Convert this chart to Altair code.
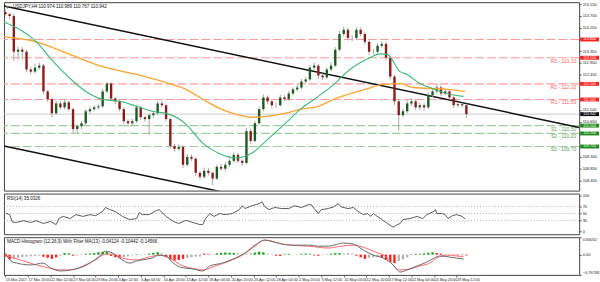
import json
import altair as alt
import pandas as pd

W = 580
H_MAIN, H_RSI, H_MACD = 190, 41, 38
FONT = "Liberation Sans"
XDOM = [0, 408]
PDOM = [108.01, 115.23]

# ---------------- price candles (one candle per 3 H4 bars) ----------------
open0 = 114.85
close = [114.77,114.70,113.33,113.41,113.33,112.65,112.57,112.72,112.80,111.81,
         111.51,110.97,111.35,111.20,111.39,111.13,110.37,110.48,110.59,111.05,
         111.13,111.20,111.24,111.81,112.11,111.54,111.43,111.13,110.67,110.59,
         110.67,111.20,110.82,110.75,110.90,110.97,111.35,111.28,110.75,109.72,
         109.61,109.68,109.00,109.30,109.23,108.69,108.54,108.77,108.69,108.47,
         108.92,108.85,109.00,109.15,109.38,109.15,109.07,110.29,109.91,110.59,
         111.13,111.58,111.43,111.28,111.28,111.58,111.51,111.73,111.89,111.96,
         112.19,112.27,112.72,112.80,112.42,112.35,112.65,112.80,113.41,114.01,
         114.17,113.86,113.86,114.17,114.01,113.71,113.33,113.33,113.56,113.63,
         113.10,112.38,111.43,110.90,111.05,111.35,111.43,111.20,111.28,111.20,
         111.66,111.81,111.96,111.73,111.81,111.58,111.28,111.32,111.28,110.94]
wick_up = [0.10,0.06,0.10,0.12,0.10,0.08,0.10,0.15,0.12,0.06,
           0.06,0.06,0.12,0.10,0.12,0.06,0.06,0.06,0.08,0.08,
           0.10,0.08,0.10,0.10,0.06,0.06,0.06,0.06,0.06,0.08,
           0.10,0.10,0.06,0.06,0.08,0.10,0.08,0.10,0.06,0.06,
           0.08,0.12,0.06,0.12,0.10,0.06,0.06,0.12,0.10,0.06,
           0.08,0.12,0.10,0.08,0.10,0.06,0.06,0.12,0.10,0.08,
           0.10,0.12,0.08,0.08,0.10,0.10,0.08,0.10,0.08,0.10,
           0.10,0.10,0.10,0.12,0.06,0.08,0.08,0.12,0.10,0.12,
           0.12,0.08,0.10,0.10,0.08,0.06,0.06,0.10,0.10,0.10,
           0.08,0.06,0.06,0.10,0.10,0.15,0.12,0.10,0.10,0.08,
           0.10,0.12,0.15,0.08,0.10,0.06,0.06,0.08,0.06,0.06]
wick_dn = [0.05,0.10,0.35,0.30,0.30,0.10,0.10,0.08,0.08,0.10,
           0.10,0.15,0.06,0.08,0.08,0.06,0.15,0.15,0.12,0.06,
           0.08,0.08,0.08,0.06,0.06,0.08,0.10,0.08,0.12,0.15,
           0.10,0.06,0.10,0.10,0.60,0.10,0.06,0.08,0.08,0.10,
           0.10,0.08,0.12,0.08,0.08,0.12,0.10,0.08,0.10,0.25,
           0.06,0.08,0.10,0.08,0.08,0.08,0.12,0.06,0.12,0.06,
           0.06,0.08,0.12,0.12,0.10,0.06,0.08,0.06,0.08,0.08,
           0.06,0.08,0.06,0.08,0.12,0.10,0.06,0.06,0.06,0.06,
           0.08,0.10,0.12,0.06,0.08,0.10,0.12,0.10,0.06,0.08,
           0.10,0.12,0.15,0.60,0.10,0.08,0.10,0.10,0.10,0.12,
           0.06,0.06,0.08,0.10,0.08,0.08,0.10,0.08,0.10,0.15]

# moving averages (green fast, orange slow)
ma_fast_x = [0,23,35,47,58,70,82,94,105,117,129,141,153,164,176,188,199,211,223,234,246,258,267,272,281,286,295,304,314,326]
ma_fast = [114.47,113.71,112.95,112.30,111.81,111.51,111.43,111.24,111.05,110.94,110.56,109.83,109.42,109.26,109.45,
           110.02,110.56,111.16,111.62,112.08,112.68,113.06,113.25,113.22,112.57,112.46,112.11,111.92,111.73,111.62]
ma_slow_x = [0,23,47,70,94,117,129,141,153,164,176,188,199,211,223,234,246,258,269,281,290,314,327]
ma_slow = [113.90,113.71,113.22,112.76,112.46,112.11,111.89,111.51,111.16,110.94,110.82,110.86,
           110.97,111.13,111.24,111.51,111.73,111.92,112.08,112.11,111.96,111.89,111.81]

# trend channel lines
trend_upper_x = [0, 408]
trend_upper = [115.08, 110.43]
trend_lower_x = [0, 160]
trend_lower = [109.72, 107.90]

# horizontal levels
level_price = [113.80, 113.10, 112.10, 111.50, 110.50, 110.20, 109.70]
level_name = ["", "R3", "R2", "R1", "S1", "S2", "S3"]
level_kind = ["r", "r", "r", "r", "s", "s", "s"]
last_price = 110.94
last_label = "110.942"
price_ticks = [115.15, 114.70, 114.25, 113.35, 112.90, 112.45,
               111.10, 110.65, 109.30, 108.85, 108.40]
header = "USDJPY,H4  110.974 110.989 110.767 110.942"

# ---------------- RSI ----------------
rsi_x = [1,4,6,9,14,19,23,28,33,37,39,42,47,51,56,61,65,70,72,75,79,84,89,94,96,98,103,108,110,115,
         120,124,129,134,139,141,143,146,149,153,157,162,167,169,171,176,181,183,185,188,
         192,197,202,206,211,216,218,220,223,225,230,234,237,239,244,248,251,255,258,260,
         262,267,272,276,279,281,283,288,293,297,300,305,306,307,311,313,315,318,321,325,327]
rsi_v = [51,47,26,25,30,25,30,22,28,19,36,42,36,47,42,47,44,56,67,61,56,42,33,36,53,47,47,58,61,42,
         28,22,31,25,19,19,36,50,42,50,47,50,61,72,64,72,78,83,69,61,
         67,64,64,72,67,75,75,64,50,61,64,69,78,69,64,67,56,47,50,42,
         50,36,22,12,19,22,33,36,42,36,47,56,61,50,50,47,36,44,47,42,35]
rsi_levels = [30, 50, 70]
rsi_ticks = [0, 30, 50, 70, 100]
rsi_header = "RSI(14) 35.0326"

# ---------------- MACD ----------------
macd_x = [1,5,9,19,28,33,40,47,54,61,68,72,77,82,89,94,98,105,110,115,120,127,134,141,146,155,164,171,178,185,
          190,197,206,216,223,230,234,241,248,255,262,269,276,279,281,286,293,300,305,309,316,321,326]
macd_v = [0.06,-0.24,-0.32,-0.39,-0.32,-0.50,-0.62,-0.58,-0.50,-0.32,-0.05,0.13,0.06,-0.13,-0.32,-0.24,-0.20,-0.13,-0.02,-0.05,
          -0.32,-0.50,-0.54,-0.62,-0.43,-0.32,-0.13,0.06,0.36,0.55,0.51,0.40,0.36,0.36,0.32,0.32,0.36,0.44,0.40,0.17,
          -0.02,-0.13,-0.39,-0.58,-0.66,-0.58,-0.43,-0.28,-0.13,-0.05,-0.09,-0.13,-0.17]
sig_x = [1,7,14,23,35,40,47,56,65,72,77,84,94,103,110,117,127,136,141,150,160,169,178,185,192,202,216,230,239,248,
         255,262,272,276,281,288,295,302,307,314,321,326]
sig_v = [-0.02,-0.13,-0.24,-0.39,-0.54,-0.58,-0.58,-0.43,-0.20,0.02,0.02,-0.13,-0.20,-0.09,-0.02,-0.13,-0.43,-0.54,-0.58,-0.43,
         -0.24,-0.02,0.32,0.55,0.47,0.36,0.32,0.25,0.32,0.36,0.28,0.13,-0.13,-0.40,-0.58,-0.54,-0.43,-0.32,-0.13,-0.02,-0.05,-0.09]
hist_v = [-0.08,-0.18,-0.15,-0.12,-0.10,-0.08,-0.06,-0.05,-0.04,-0.08,
          -0.12,-0.16,-0.10,-0.04,0.06,0.05,-0.04,-0.03,0.02,0.03,
          0.04,0.06,0.09,0.11,0.10,-0.05,-0.10,-0.12,-0.10,-0.06,
          -0.03,0.02,-0.02,0.02,0.04,0.07,0.09,0.05,-0.08,-0.18,
          -0.22,-0.20,-0.16,-0.12,-0.10,-0.08,-0.07,0.04,0.03,0.02,
          0.05,0.07,0.08,0.07,0.06,0.05,0.03,0.04,0.05,0.08,
          0.11,0.09,0.04,0.02,-0.04,-0.05,0.02,0.03,0.01,-0.02,
          0.03,0.04,0.03,-0.03,-0.04,-0.02,0.02,0.04,0.06,0.06,
          0.05,0.06,0.04,-0.04,-0.10,-0.16,-0.12,-0.10,-0.08,-0.12,
          -0.20,-0.28,-0.32,-0.24,-0.18,-0.10,0.02,0.03,0.03,0.05,
          0.07,0.09,0.06,0.04,0.02,0.03,-0.02,-0.03,-0.02,-0.03]
hist_c = ["r","r","n","n","n","n","n","n","n","r",
          "r","r","r","n","g","g","r","n","n","g",
          "g","g","g","g","g","r","r","r","n","n",
          "n","g","n","n","g","g","g","n","r","r",
          "r","r","r","n","n","n","n","r","r","n",
          "g","g","g","g","g","n","n","n","n","g",
          "g","g","n","n","r","r","g","g","n","n",
          "g","g","g","r","r","n","n","g","g","g",
          "n","n","n","r","r","r","n","n","n","r",
          "r","r","r","n","n","n","g","r","g","g",
          "g","g","r","r","n","n","r","r","r","r"]
macd_dom = [-0.76748, 0.66052]
macd_ticks = [-0.76748, 0.0, 0.66052]
macd_header = "MACD Histogram (12,26,9) With Filter MA(13) -0.04124 -0.10442 -0.14566"

dates = ["15 Mar 2017", "17 Mar 20:00", "22 Mar 12:00", "27 Mar 04:00", "29 Mar 20:00",
         "3 Apr 12:00", "6 Apr 04:00", "10 Apr 20:00", "13 Apr 12:00", "18 Apr 04:00",
         "20 Apr 20:00", "25 Apr 12:00", "28 Apr 04:00", "2 May 20:00", "5 May 12:00",
         "10 May 04:00", "12 May 20:00", "17 May 12:00", "22 May 04:00", "24 May 20:00",
         "29 May 12:00"]
date_bars = [1 + 16 * i for i in range(len(dates))]

# ---------------- colours ----------------
C_UP, C_DN, C_WICK = "#1d5a22", "#8a1c1c", "#a6a6a6"
C_RLINE, C_SLINE, C_CUR = "#ff9a9a", "#9fcc9f", "#c8c8c8"
C_RTXT, C_STXT = "#ff5c5c", "#5a9e5a"
C_RBOX, C_SBOX, C_CBOX = "#ff1f1f", "#1d8a1d", "#111111"

# ---------------- build frames ----------------
bars = [1 + 3 * i for i in range(len(close))]
opens = [open0] + close[:-1]
cdf = pd.DataFrame({"bar": bars, "o": opens, "c": close})
cdf["hi"] = [max(o, c) + u for o, c, u in zip(opens, close, wick_up)]
cdf["lo"] = [min(o, c) - d for o, c, d in zip(opens, close, wick_dn)]
cdf["dir"] = ["up" if c >= o else "dn" for o, c in zip(opens, close)]

XS = alt.Scale(domain=XDOM, nice=False, zero=False)
PS = alt.Scale(domain=PDOM, nice=False, zero=False)
PAX = alt.Axis(orient="right", values=price_ticks, format=".3f", title=None, labelOverlap=False)


def X(field="bar"):
    return alt.X(f"{field}:Q", scale=XS, axis=None)


def PY(field):
    return alt.Y(f"{field}:Q", scale=PS, axis=PAX)


lv = pd.DataFrame({"p": level_price, "name": level_name, "kind": level_kind})
lv["label"] = [f"{n} - {p:.2f}" if n else "" for n, p in zip(level_name, level_price)]
lv["txt"] = [f"{p:.3f}" for p in level_price]
lv["top"] = lv["p"] + 0.075
lv["bot"] = lv["p"] - 0.075
cur = pd.DataFrame({"p": [last_price], "txt": [last_label]})
cur["top"] = cur["p"] + 0.075
cur["bot"] = cur["p"] - 0.075
lv_r = lv[lv["kind"] == "r"]
lv_s = lv[lv["kind"] == "s"]


def level_layers(df, line_c, txt_c, box_c):
    rules = alt.Chart(df).mark_rule(strokeDash=[9, 3], strokeWidth=1.2, color=line_c).encode(y=PY("p"))
    txt = alt.Chart(df[df["name"] != ""]).mark_text(
        align="right", baseline="top", dy=1, fontSize=5, font=FONT, color=txt_c).encode(
        x=alt.value(W - 3), y=PY("p"), text="label:N")
    box = alt.Chart(df).mark_rect(color=box_c).encode(
        x=alt.value(W + 1), x2=alt.value(W + 20), y=PY("top"), y2="bot:Q")
    btxt = alt.Chart(df).mark_text(color="white", fontSize=3.6, font=FONT, align="center", baseline="middle").encode(
        x=alt.value(W + 10.5), y=PY("p"), text="txt:N")
    return [rules, txt], [box, btxt]


r_lines, r_boxes = level_layers(lv_r, C_RLINE, C_RTXT, C_RBOX)
s_lines, s_boxes = level_layers(lv_s, C_SLINE, C_STXT, C_SBOX)

cur_rule = alt.Chart(cur).mark_rule(color=C_CUR, strokeWidth=1).encode(y=PY("p"))
cur_box = alt.Chart(cur).mark_rect(color=C_CBOX).encode(
    x=alt.value(W + 1), x2=alt.value(W + 20), y=PY("top"), y2="bot:Q")
cur_txt = alt.Chart(cur).mark_text(color="white", fontSize=3.6, font=FONT, align="center", baseline="middle").encode(
    x=alt.value(W + 10.5), y=PY("p"), text="txt:N")

tl = pd.DataFrame({"bar": trend_upper_x + trend_lower_x, "p": trend_upper + trend_lower,
                   "line": ["u", "u", "l", "l"]})
trend = alt.Chart(tl).mark_line(color="#111111", strokeWidth=1.5, clip=True).encode(
    x=X(), y=PY("p"), detail="line:N")

maf = alt.Chart(pd.DataFrame({"bar": ma_fast_x, "p": ma_fast})).mark_line(
    color="#3cb878", strokeWidth=1.1, interpolate="monotone").encode(x=X(), y=PY("p"))
mas = alt.Chart(pd.DataFrame({"bar": ma_slow_x, "p": ma_slow})).mark_line(
    color="#ffa333", strokeWidth=1.3, interpolate="monotone").encode(x=X(), y=PY("p"))

wicks = alt.Chart(cdf).mark_rule(color=C_WICK, strokeWidth=1).encode(x=X(), y=PY("lo"), y2="hi:Q")
body_up = alt.Chart(cdf[cdf["dir"] == "up"]).mark_rule(strokeWidth=2.4, color=C_UP).encode(
    x=X(), y=PY("o"), y2="c:Q")
body_dn = alt.Chart(cdf[cdf["dir"] == "dn"]).mark_rule(strokeWidth=2.4, color=C_DN).encode(
    x=X(), y=PY("o"), y2="c:Q")

head = alt.Chart(pd.DataFrame({"t": [header]})).mark_text(
    align="left", baseline="middle", fontSize=4.6, font=FONT, color="#111").encode(
    x=alt.value(9), y=alt.value(5), text="t:N")
head_icon = alt.Chart(pd.DataFrame({"t": ["▾"]})).mark_text(
    align="left", baseline="middle", fontSize=6, color="#666").encode(
    x=alt.value(2), y=alt.value(5), text="t:N")

main = alt.layer(*r_lines, *s_lines, cur_rule, trend, wicks, body_up, body_dn, mas, maf,
                 *r_boxes, *s_boxes, cur_box, cur_txt, head_icon, head).properties(width=W, height=H_MAIN)

# RSI panel
RS = alt.Scale(domain=[-8, 106], nice=False, zero=False)
RAX = alt.Axis(orient="right", values=rsi_ticks, format="d", title=None, labelOverlap=False)
rsi_lv = alt.Chart(pd.DataFrame({"v": rsi_levels})).mark_rule(
    strokeDash=[1, 2], color="#9a9a9a", strokeWidth=0.8).encode(y=alt.Y("v:Q", scale=RS, axis=RAX))
rsi_line = alt.Chart(pd.DataFrame({"bar": rsi_x, "v": rsi_v})).mark_line(
    color="#5a5a5a", strokeWidth=1).encode(x=X(), y=alt.Y("v:Q", scale=RS, axis=RAX))
rsi_head = alt.Chart(pd.DataFrame({"t": [rsi_header]})).mark_text(
    align="left", baseline="middle", fontSize=4.6, font=FONT, color="#111").encode(
    x=alt.value(3), y=alt.value(5), text="t:N")
rsi = alt.layer(rsi_lv, rsi_line, rsi_head).properties(width=W, height=H_RSI)

# MACD panel
MS = alt.Scale(domain=macd_dom, nice=False, zero=False)
MAX = alt.Axis(orient="right", values=macd_ticks, title=None, labelFlush=True, labelOverlap=False,
               labelExpr="datum.value == 0 ? '0.00' : format(datum.value, '.5f')")
XAX = alt.Axis(values=date_bars, labelExpr=f"{json.dumps(dates)}[round((datum.value - 1) / 16)]",
               labelAlign="left", labelFontSize=3.8, labelOverlap=False, labelFlush=False,
               tickSize=2, labelPadding=1, title=None)
hdf = pd.DataFrame({"bar": bars, "v": hist_v, "c": hist_c, "z": [0.0] * len(bars)})


def hist_layer(code, col):
    return alt.Chart(hdf[hdf["c"] == code]).mark_rule(strokeWidth=2.4, color=col).encode(
        x=alt.X("bar:Q", scale=XS, axis=XAX), y=alt.Y("v:Q", scale=MS, axis=MAX), y2="z:Q")


hist_g = hist_layer("g", "#1aa01a")
hist_r = hist_layer("r", "#ff2020")
hist_n = hist_layer("n", "#b4b4b4")
macd_line = alt.Chart(pd.DataFrame({"bar": macd_x, "v": macd_v})).mark_line(
    color="#6a6a6a", strokeWidth=1, interpolate="monotone").encode(
    x=alt.X("bar:Q", scale=XS, axis=XAX), y=alt.Y("v:Q", scale=MS, axis=MAX))
sig_line = alt.Chart(pd.DataFrame({"bar": sig_x, "v": sig_v})).mark_line(
    color="#ff6b6b", strokeWidth=1, interpolate="monotone").encode(
    x=alt.X("bar:Q", scale=XS, axis=XAX), y=alt.Y("v:Q", scale=MS, axis=MAX))
macd_head = alt.Chart(pd.DataFrame({"t": [macd_header]})).mark_text(
    align="left", baseline="middle", fontSize=4.6, font=FONT, color="#111").encode(
    x=alt.value(3), y=alt.value(5), text="t:N")
macd = alt.layer(hist_n, hist_r, hist_g, sig_line, macd_line, macd_head).properties(width=W, height=H_MACD)

chart = alt.vconcat(main, rsi, macd, spacing=1).properties(
    padding=0, background="white"
).configure_view(stroke="#444444", strokeWidth=1).configure_axis(
    labelFont=FONT, labelFontSize=4, labelColor="#222222", tickColor="#555555",
    tickSize=2, labelPadding=1, domain=False, grid=False
).configure_concat(spacing=1)

chart.save("out.html", embed_options={"renderer": "svg", "actions": False})
